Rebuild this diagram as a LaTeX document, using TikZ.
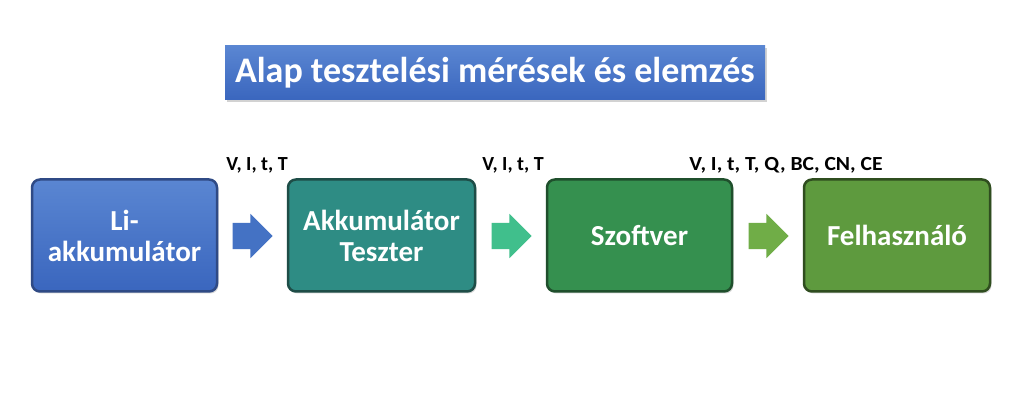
\documentclass[tikz,border=0pt]{standalone}
\usepackage{fontspec}
\setmainfont{Carlito}
\usetikzlibrary{shapes.arrows,shadows}
\definecolor{bluetop}{HTML}{5A86D2}
\definecolor{bluebot}{HTML}{3A66BE}
\definecolor{blueline}{HTML}{2F4A85}
\definecolor{tealfill}{HTML}{2E8C84}
\definecolor{tealline}{HTML}{1E4D47}
\definecolor{grnfill}{HTML}{35904F}
\definecolor{grnline}{HTML}{1F4F2C}
\definecolor{olvfill}{HTML}{5E9A3E}
\definecolor{olvline}{HTML}{2F4D1F}
\definecolor{arrblue}{HTML}{4472C4}
\definecolor{arrmint}{HTML}{40BF8C}
\definecolor{arrgreen}{HTML}{70AD47}
\tikzset{
  x=1pt,y=1pt,
  stage/.style={rounded corners=8pt, line width=2.5pt, minimum height=112pt,
    text=white, font=\bfseries\fontsize{29}{31}\selectfont, align=center,
    drop shadow={opacity=0.3, shadow xshift=1.5pt, shadow yshift=-2pt}},
  flow/.style={single arrow, single arrow head extend=9pt,
    minimum height=40pt, inner xsep=0pt, inner ysep=13pt, draw=none},
  lbl/.style={font=\bfseries\fontsize{20}{24}\selectfont, inner sep=0pt}
}
\begin{document}
\begin{tikzpicture}
\useasboundingbox (0,0) rectangle (1024,403);
\fill[white] (0,0) rectangle (1024,403);
\node[minimum width=540pt, minimum height=54pt, top color=bluetop, bottom color=bluebot,
  text=white, font=\bfseries\fontsize{36}{40}\selectfont,
  drop shadow={opacity=0.35, shadow xshift=1.5pt, shadow yshift=-2.5pt}]
  (title) at (495,330) {Alap tesztelési mérések és elemzés};

\node[stage, minimum width=185pt, top color=bluetop, bottom color=bluebot, draw=blueline]
  (li) at (124.5,167.5) {Li-\\akkumulátor};
\node[stage, minimum width=187pt, fill=tealfill, draw=tealline]
  (tester) at (381.5,167.5) {Akkumulátor\\Teszter};
\node[stage, minimum width=185pt, fill=grnfill, draw=grnline]
  (sw) at (639.5,167.5) {Szoftver};
\node[stage, minimum width=186pt, fill=olvfill, draw=olvline]
  (user) at (897,167.5) {Felhasználó};

\node[flow, fill=arrblue] (a1) at (246,167) {};
\node[flow, fill=arrmint] (a2) at (505,167) {};
\node[flow, fill=arrgreen] (a3) at (762,167) {};

\node[lbl] (l1) at (257,238) {V, I, t, T};
\node[lbl] (l2) at (513,238) {V, I, t, T};
\node[lbl, xscale=1.08] (l3) at (786,238) {V, I, t, T, Q, BC, CN, CE};
\end{tikzpicture}
\end{document}
